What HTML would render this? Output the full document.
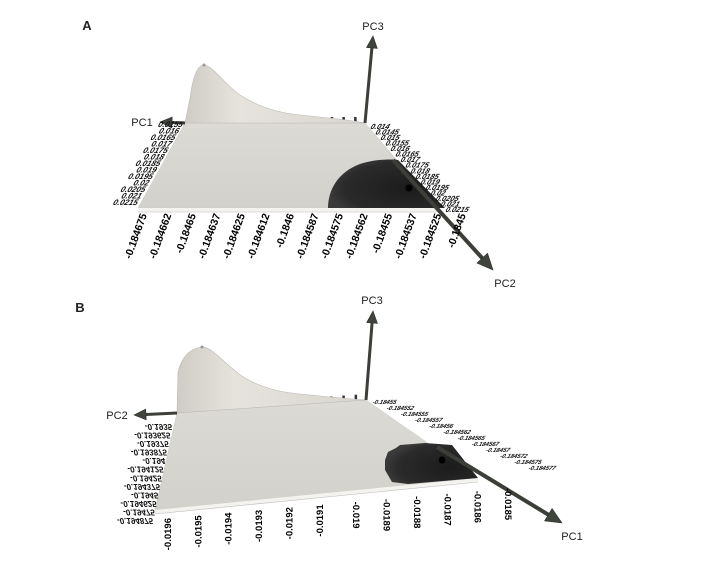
<!DOCTYPE html>
<html><head><meta charset="utf-8"><style>
html,body{margin:0;padding:0;background:#fff;}
svg{display:block;font-family:"Liberation Sans",sans-serif;}
</style></head><body>
<svg id="fig" width="720" height="585" viewBox="0 0 720 585">
<defs>
<linearGradient id="peakA" x1="0" y1="0" x2="1" y2="0"><stop offset="0" stop-color="#cfccc5"/><stop offset="0.3" stop-color="#e6e3dd"/><stop offset="1" stop-color="#d8d5cf"/></linearGradient>
<linearGradient id="plane" x1="0" y1="0" x2="0" y2="1"><stop offset="0" stop-color="#dcdad5"/><stop offset="1" stop-color="#d3d1cb"/></linearGradient>
<radialGradient id="blob" cx="0.7" cy="0.6" r="0.7"><stop offset="0" stop-color="#1c1c1c"/><stop offset="0.8" stop-color="#2a2a2a"/><stop offset="1" stop-color="#3a3a3a"/></radialGradient>
</defs>
<g id="panelA"></g>
<g id="panelB"></g>
</svg>
<script>
var NS="http://www.w3.org/2000/svg";
var frontTicksA=["-0.184675","-0.184662","-0.18465","-0.184637","-0.184625","-0.184612","-0.1846","-0.184587","-0.184575","-0.184562","-0.18455","-0.184537","-0.184525","-0.1845"];
var leftTicksA=["0.0215","0.021","0.0205","0.02","0.0195","0.019","0.0185","0.018","0.0175","0.017","0.0165","0.016","0.0155"];
var rightTicksA=["0.014","0.0145","0.015","0.0155","0.016","0.0165","0.017","0.0175","0.018","0.0185","0.019","0.0195","0.02","0.0205","0.021","0.0215"];
var frontTicksB=["-0.0196","-0.0195","-0.0194","-0.0193","-0.0192","-0.0191","-0.019","-0.0189","-0.0188","-0.0187","-0.0186","-0.0185"];
var leftTicksB=["-0.194875","-0.19475","-0.194625","-0.1945","-0.194375","-0.19425","-0.194125","-0.194","-0.193875","-0.19375","-0.193625","-0.1935"];
var rightTicksB=["-0.18455","-0.184552","-0.184555","-0.184557","-0.18456","-0.184562","-0.184565","-0.184567","-0.18457","-0.184572","-0.184575","-0.184577"];

function el(tag,attrs,parent,txt){var e=document.createElementNS(NS,tag);for(var k in attrs)e.setAttribute(k,attrs[k]);if(txt!=null)e.textContent=txt;parent.appendChild(e);return e;}
function lerp(a,b,t){return [a[0]+(b[0]-a[0])*t,a[1]+(b[1]-a[1])*t];}

function arrow(g,from,to,name,w){
  var a=el("g",{},g);
  
  
  var dx=to[0]-from[0],dy=to[1]-from[1],L=Math.hypot(dx,dy),ux=dx/L,uy=dy/L,h=w*4;
  var bx=to[0]-ux*h,by=to[1]-uy*h;
  el("line",{x1:from[0],y1:from[1],x2:bx,y2:by,stroke:"#3b3f38","stroke-width":w},a);
  el("polygon",{points:to[0]+","+to[1]+" "+(bx-uy*w*1.8)+","+(by+ux*w*1.8)+" "+(bx+uy*w*1.8)+","+(by-ux*w*1.8),fill:"#3f443c",stroke:"#2a2d28","stroke-width":0.6},a);
}
function label(g,x,y,t,name,size){var e=el("text",{x:x,y:y,"font-size":size||11,fill:"#222","text-anchor":"middle"},g,t);return e;}

function panel(g,c){
  label(g,c.letter[0],c.letter[1],c.letterT,"panel-letter",13).setAttribute("font-weight","bold");
  for(var i=0;i<14;i++){var p=lerp(c.TL,c.TR,0.1+i*0.065);el("rect",{x:p[0]-1,y:p[1]-6,width:2.5,height:6,fill:i>8?"#333":"#999"},g);}
  var pl=el("polygon",{points:[c.TL,c.TR,c.BR,c.BL].map(function(p){return p.join(",")}).join(" "),fill:"url(#plane)",stroke:"#c8c6c0","stroke-width":0.5},g);
  
  el("line",{x1:c.BL[0],y1:c.BL[1]+2,x2:c.BR[0],y2:c.BR[1]+2,stroke:"#f4f3ef","stroke-width":4},g);
  el("line",{x1:c.BL[0],y1:c.BL[1]+4,x2:c.BR[0],y2:c.BR[1]+4,stroke:"#bbb","stroke-width":0.6},g);
  var pk=el("path",{d:c.peak,fill:"url(#peakA)",stroke:"#bdbab3","stroke-width":0.6},g);
  
  el("circle",{cx:c.peakTop[0],cy:c.peakTop[1],r:1.5,fill:"#999"},g);
  var bl=el("path",{d:c.blob,fill:"url(#blob)"},g);
  
  var d=el("circle",{cx:c.dot[0],cy:c.dot[1],r:3.5,fill:"#000"},g);
  
  arrow(g,c.TR,c.z,"pc3-axis-arrow",3);
  arrow(g,c.TL,c.xl,c.xlName+"-axis-arrow",3);
  arrow(g,c.xrFrom,c.xr,c.xrName+"-axis-arrow",4);
  label(g,c.zLab[0],c.zLab[1],"PC3","pc3-axis-title");
  label(g,c.xlLab[0],c.xlLab[1],c.xlName.toUpperCase(),c.xlName+"-axis-title");
  label(g,c.xrLab[0],c.xrLab[1],c.xrName.toUpperCase(),c.xrName+"-axis-title");
  c.front.forEach(function(t,i){
    var p=lerp(c.f0,c.f1,i/(c.front.length-1));
    var r=c.frot(i);
    var e=el("text",{x:0,y:0,"font-size":c.fs,fill:"#000","font-weight":c.fw,"text-anchor":r>0?"start":"end",transform:"translate("+p[0]+","+p[1]+") rotate("+r+")"},g,t);
    
  });
  c.left.forEach(function(t,i){
    var p=lerp(c.l0,c.l1,i/(c.left.length-1));
    var e=el("text",{x:0,y:0,"font-size":c.lfs,fill:"#111","font-weight":"bold","text-anchor":"end","font-style":"italic",transform:"translate("+p[0]+","+p[1]+") "+c.ltr},g,t);
    
  });
  c.right.forEach(function(t,i){
    var p=lerp(c.r0,c.r1,i/(c.right.length-1));
    var e=el("text",{x:0,y:0,"font-size":c.rfs,fill:"#111","font-weight":"bold","text-anchor":"start","font-style":"italic",transform:"translate("+p[0]+","+p[1]+") skewX(-20)"},g,t);
    
  });
}

panel(document.getElementById("panelA"),{
  letter:[87,30],letterT:"A",
  TL:[185,123],TR:[365,123],BR:[438,208],BL:[138,208],
  peak:"M185,123 L190,98 C193,75 198,66 203,65 C212,64 225,85 240,95 C260,108 280,113 300,115 C330,118 350,120 365,123 Z",
  peakTop:[204,65],
  blob:"M328,208 C328,190 338,172 360,164 C375,159 392,159 398,160 L445,208 Z",
  dot:[409,188],
  z:[373,36],zLab:[373,30],
  xl:[160,122],xlName:"pc1",xlLab:[142,126],
  xrFrom:[393,160],xr:[493,270],xrName:"pc2",xrLab:[505,287],
  front:frontTicksA,f0:[147,215],f1:[466,215],frot:function(i){return -70;},fs:10.5,fw:"bold",
  left:leftTicksA,l0:[137,205],l1:[182,127],lfs:8,ltr:"skewX(-20)",
  right:rightTicksA,r0:[370,129],r1:[445,212],rfs:7.5
});
panel(document.getElementById("panelB"),{
  letter:[80,312],letterT:"B",
  TL:[177,413],TR:[366,400],BR:[478,478],BL:[155,510],
  peak:"M177,413 L178,372 C182,355 192,348 202,347 C212,346 228,368 245,378 C262,388 280,392 300,394 C330,397 350,399 366,400 Z",
  peakTop:[202,347],
  blob:"M385,460 L388,452 L396,448 L400,445 L425,443 L452,445 L478,478 L408,484 L392,482 L385,470 Z",
  dot:[442,460],
  z:[373,311],zLab:[372,304],
  xl:[134,415],xlName:"pc2",xlLab:[117,419],
  xrFrom:[437,447],xr:[562,523],xrName:"pc1",xrLab:[572,540],
  front:frontTicksB,f0:[171,518],f1:[505,488],frot:function(i){return i<6?-90:90;},fs:9.5,fw:"bold",
  left:leftTicksB,l0:[153,512],l1:[172,418],lfs:8,ltr:"scale(1,-1) translate(0,-6)",
  right:rightTicksB,r0:[372,404],r1:[528,470],rfs:6
});
</script>
</body></html>
